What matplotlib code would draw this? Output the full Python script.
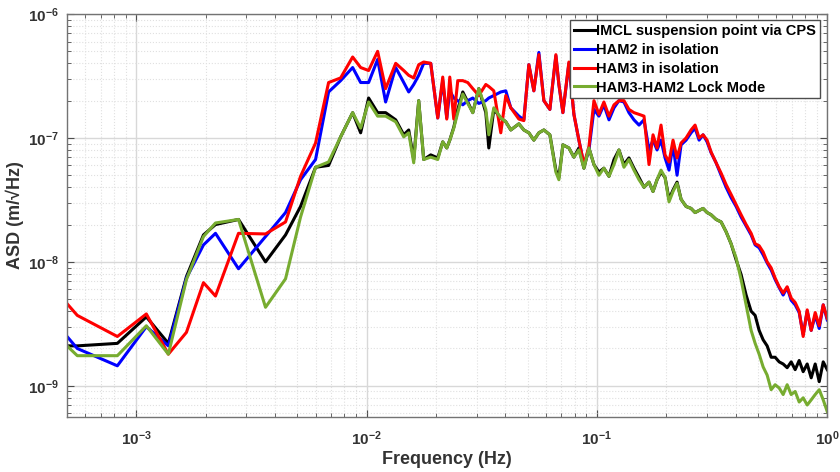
import numpy as np
import matplotlib
matplotlib.use("Agg")
import matplotlib.pyplot as plt
from matplotlib.ticker import LogLocator, NullFormatter, FixedLocator

# Frequency points (Hz), shared by all four spectra
freq = [5.0e-4, 5.54e-4, 8.27e-4, 1.105e-3, 1.377e-3, 1.65e-3, 1.956e-3, 2.206e-3, 2.777e-3, 3.638e-3,
        4.444e-3, 5.164e-3, 6.0e-3, 6.835e-3, 7.709e-3, 8.694e-3, 9.417e-3, 1.02e-2, 1.116e-2, 1.209e-2,
        1.337e-2, 1.449e-2, 1.523e-2, 1.601e-2, 1.683e-2, 1.769e-2, 1.898e-2, 2.036e-2, 2.14e-2, 2.228e-2,
        2.296e-2, 2.39e-2, 2.487e-2, 2.615e-2, 2.748e-2, 2.89e-2, 3.069e-2, 3.292e-2, 3.392e-2, 3.566e-2,
        3.824e-2, 4.02e-2, 4.227e-2, 4.581e-2, 4.815e-2, 5.062e-2, 5.322e-2, 5.595e-2, 5.883e-2, 6.246e-2,
        6.633e-2, 6.836e-2, 7.115e-2, 7.555e-2, 7.943e-2, 8.35e-2, 8.78e-2, 9.231e-2, 9.705e-2, 0.102,
        0.1072, 0.1128, 0.1186, 0.1246, 0.131, 0.1377, 0.1448, 0.1523, 0.1601, 0.1683,
        0.1752, 0.1824, 0.1898, 0.1976, 0.2056, 0.214, 0.2228, 0.2319, 0.2438, 0.2563,
        0.2668, 0.2777, 0.289, 0.3008, 0.3131, 0.3292, 0.3461, 0.3638, 0.3824, 0.402,
        0.4227, 0.4444, 0.4672, 0.4864, 0.5062, 0.5269, 0.5484, 0.5708, 0.5941, 0.6184,
        0.6436, 0.6699, 0.6973, 0.7258, 0.7554, 0.7862, 0.8185, 0.8519, 0.8866, 0.9231,
        0.9607, 1.0]

# IMCL suspension point via CPS
imcl = [2.1e-9, 2.1e-9, 2.2e-9, 3.6e-9, 2.2e-9, 7.6e-9, 1.65e-8, 2.0e-8, 2.2e-8, 1.0e-8,
        1.65e-8, 2.8e-8, 5.8e-8, 6.0e-8, 1.02e-7, 1.6e-7, 1.1e-7, 2.1e-7, 1.6e-7, 1.6e-7,
        1.4e-7, 1.06e-7, 1.16e-7, 6.7e-8, 2.0e-7, 6.7e-8, 7.3e-8, 6.9e-8, 9.3e-8, 8.3e-8,
        9.6e-8, 1.22e-7, 1.7e-7, 2.35e-7, 1.95e-7, 1.6e-7, 2.5e-7, 1.6e-7, 8.3e-8, 1.7e-7,
        1.45e-7, 1.35e-7, 1.16e-7, 1.3e-7, 1.16e-7, 1.1e-7, 9.6e-8, 1.1e-7, 1.16e-7, 1.06e-7,
        5.5e-8, 4.8e-8, 8.8e-8, 8.3e-8, 7.0e-8, 8.3e-8, 5.7e-8, 8.3e-8, 6.1e-8, 5.3e-8,
        5.7e-8, 4.9e-8, 6.7e-8, 8.0e-8, 6.1e-8, 6.9e-8, 5.7e-8, 4.8e-8, 4.0e-8, 4.4e-8,
        3.7e-8, 4.6e-8, 5.3e-8, 4.8e-8, 3.2e-8, 3.8e-8, 4.4e-8, 3.2e-8, 2.8e-8, 2.7e-8,
        2.5e-8, 2.6e-8, 2.7e-8, 2.5e-8, 2.4e-8, 2.2e-8, 2.1e-8, 1.75e-8, 1.4e-8, 1.04e-8,
        7.9e-9, 5.4e-9, 4.0e-9, 3.7e-9, 2.8e-9, 2.35e-9, 2.1e-9, 1.7e-9, 1.7e-9, 1.56e-9,
        1.5e-9, 1.4e-9, 1.56e-9, 1.35e-9, 1.6e-9, 1.3e-9, 1.5e-9, 1.16e-9, 1.5e-9, 1.08e-9,
        1.56e-9, 1.35e-9]

# HAM2 in isolation
ham2 = [2.5e-9, 2.0e-9, 1.45e-9, 3.0e-9, 2.1e-9, 7.4e-9, 1.37e-8, 1.7e-8, 8.8e-9, 1.6e-8,
        2.5e-8, 4.6e-8, 6.7e-8, 2.35e-7, 2.9e-7, 3.7e-7, 2.8e-7, 2.8e-7, 4.3e-7, 1.95e-7,
        3.7e-7, 2.8e-7, 2.35e-7, 2.7e-7, 3.2e-7, 4.0e-7, 4.0e-7, 1.45e-7, 2.9e-7, 1.45e-7,
        2.4e-7, 2.1e-7, 2.0e-7, 1.85e-7, 2.0e-7, 2.1e-7, 1.9e-7, 2.0e-7, 2.1e-7, 2.2e-7,
        2.35e-7, 2.4e-7, 1.75e-7, 1.5e-7, 1.4e-7, 3.9e-7, 2.4e-7, 4.9e-7, 2.0e-7, 1.7e-7,
        4.6e-7, 2.7e-7, 1.6e-7, 4.0e-7, 1.55e-7, 9.6e-8, 6.1e-8, 8.0e-8, 1.7e-7, 1.5e-7,
        1.85e-7, 1.4e-7, 1.75e-7, 2.0e-7, 1.95e-7, 1.6e-7, 1.4e-7, 1.27e-7, 1.4e-7, 8.0e-8,
        9.6e-8, 8.0e-8, 9.6e-8, 6.9e-8, 5.5e-8, 8.8e-8, 5.0e-8, 8.8e-8, 9.6e-8, 1.1e-7,
        1.2e-7, 9.6e-8, 1.06e-7, 9.3e-8, 7.6e-8, 6.3e-8, 5.0e-8, 4.0e-8, 3.3e-8, 2.8e-8,
        2.3e-8, 1.95e-8, 1.65e-8, 1.37e-8, 1.3e-8, 1.14e-8, 9.8e-9, 8.6e-9, 7.2e-9, 6.2e-9,
        5.4e-9, 6.2e-9, 4.9e-9, 4.5e-9, 3.9e-9, 2.6e-9, 4.0e-9, 2.8e-9, 3.7e-9, 2.9e-9,
        4.5e-9, 3.4e-9]

# HAM3 in isolation
ham3 = [4.6e-9, 3.7e-9, 2.5e-9, 3.8e-9, 1.8e-9, 2.7e-9, 6.8e-9, 5.3e-9, 1.7e-8, 1.68e-8,
        2.1e-8, 4.9e-8, 9.1e-8, 2.8e-7, 3.05e-7, 4.5e-7, 3.7e-7, 3.5e-7, 5.0e-7, 2.5e-7,
        4.0e-7, 3.5e-7, 3.2e-7, 3.05e-7, 3.9e-7, 4.1e-7, 4.0e-7, 1.45e-7, 3.1e-7, 1.42e-7,
        3.1e-7, 1.42e-7, 2.9e-7, 2.9e-7, 2.8e-7, 2.5e-7, 2.2e-7, 2.7e-7, 2.6e-7, 2.4e-7,
        1.1e-7, 2.2e-7, 1.75e-7, 1.42e-7, 1.38e-7, 3.9e-7, 2.4e-7, 4.7e-7, 2.0e-7, 1.7e-7,
        4.7e-7, 2.7e-7, 1.6e-7, 4.1e-7, 1.55e-7, 9.6e-8, 6.1e-8, 8.5e-8, 2.0e-7, 1.55e-7,
        1.95e-7, 1.5e-7, 1.85e-7, 2.0e-7, 2.0e-7, 1.7e-7, 1.6e-7, 1.55e-7, 1.5e-7, 6.1e-8,
        1.06e-7, 8.3e-8, 1.27e-7, 7.3e-8, 6.4e-8, 9.6e-8, 6.9e-8, 9.1e-8, 1.0e-7, 1.16e-7,
        1.27e-7, 1.0e-7, 1.06e-7, 9.6e-8, 7.7e-8, 6.3e-8, 5.2e-8, 4.2e-8, 3.5e-8, 2.9e-8,
        2.4e-8, 2.0e-8, 1.7e-8, 1.4e-8, 1.35e-8, 1.2e-8, 1.0e-8, 8.95e-9, 7.4e-9, 6.3e-9,
        5.6e-9, 6.3e-9, 5.1e-9, 4.7e-9, 4.0e-9, 2.5e-9, 4.1e-9, 2.8e-9, 3.9e-9, 3.05e-9,
        4.5e-9, 3.5e-9]

# HAM3-HAM2 Lock Mode
lock = [2.1e-9, 1.75e-9, 1.75e-9, 3.05e-9, 1.8e-9, 7.2e-9, 1.6e-8, 2.06e-8, 2.2e-8, 4.3e-9,
        7.3e-9, 2.3e-8, 5.8e-8, 6.4e-8, 1.02e-7, 1.6e-7, 1.2e-7, 1.95e-7, 1.5e-7, 1.5e-7,
        1.35e-7, 1.02e-7, 1.1e-7, 6.3e-8, 2.0e-7, 6.7e-8, 7.0e-8, 6.7e-8, 9.3e-8, 8.3e-8,
        9.6e-8, 1.2e-7, 1.6e-7, 2.26e-7, 1.9e-7, 1.6e-7, 2.5e-7, 1.7e-7, 1.06e-7, 1.75e-7,
        1.45e-7, 1.35e-7, 1.16e-7, 1.3e-7, 1.16e-7, 1.1e-7, 9.6e-8, 1.1e-7, 1.16e-7, 1.06e-7,
        5.3e-8, 4.6e-8, 8.8e-8, 8.3e-8, 7.0e-8, 8.0e-8, 5.7e-8, 8.3e-8, 6.1e-8, 5.0e-8,
        5.7e-8, 4.9e-8, 6.1e-8, 8.0e-8, 5.8e-8, 6.7e-8, 5.5e-8, 4.6e-8, 4.0e-8, 4.4e-8,
        3.7e-8, 4.6e-8, 5.5e-8, 4.8e-8, 3.05e-8, 3.7e-8, 4.3e-8, 3.2e-8, 2.8e-8, 2.7e-8,
        2.5e-8, 2.6e-8, 2.7e-8, 2.5e-8, 2.4e-8, 2.2e-8, 2.1e-8, 1.75e-8, 1.4e-8, 1.08e-8,
        7.2e-9, 4.5e-9, 2.8e-9, 2.2e-9, 1.8e-9, 1.42e-9, 1.22e-9, 9.3e-10, 1.02e-9, 9.6e-10,
        8.5e-10, 1.02e-9, 8.5e-10, 9.0e-10, 7.4e-10, 8.0e-10, 7.0e-10, 7.7e-10, 8.5e-10, 9.3e-10,
        7.7e-10, 6.2e-10]

labels = ["IMCL suspension point via CPS", "HAM2 in isolation",
          "HAM3 in isolation", "HAM3-HAM2 Lock Mode"]
colors = ["black", "#0000ff", "#ff0000", "#77ac30"]
xticks = [1e-3, 1e-2, 1e-1, 1e0]
yticks = [1e-9, 1e-8, 1e-7, 1e-6]

# MATLAB-ish look
plt.rcParams['font.family'] = ['Liberation Sans', 'DejaVu Sans']
plt.rcParams['font.weight'] = 'bold'
plt.rcParams['mathtext.fontset'] = 'custom'
plt.rcParams['mathtext.rm'] = 'Liberation Sans:bold'
plt.rcParams['mathtext.bf'] = 'Liberation Sans:bold'
plt.rcParams['mathtext.default'] = 'bf'

fig = plt.figure(figsize=(8.4, 4.72), dpi=100)
ax = fig.add_axes([0.0798, 0.1165, 0.905, 0.8538])

for series, lab, col in zip([imcl, ham2, ham3, lock], labels, colors):
    ax.loglog(freq, series, color=col, lw=2.2, label=lab)

ax.set_xlim(5e-4, 1)
ax.set_ylim(5.6e-10, 1e-6)

ax.xaxis.set_major_locator(FixedLocator(xticks))
ax.yaxis.set_major_locator(FixedLocator(yticks))
ax.xaxis.set_minor_locator(LogLocator(base=10, subs=np.arange(2, 10), numticks=20))
ax.yaxis.set_minor_locator(LogLocator(base=10, subs=np.arange(2, 10), numticks=20))
ax.xaxis.set_minor_formatter(NullFormatter())
ax.yaxis.set_minor_formatter(NullFormatter())

ax.grid(True, which='major', color='#d8d8d8', lw=1.0)
ax.grid(True, which='minor', color='#e0e0e0', lw=0.8, ls=':')
ax.set_axisbelow(True)

ax.tick_params(which='both', direction='in', top=True, right=True, color='0.3')
ax.tick_params(which='major', length=5, labelsize=11, pad=6)
ax.tick_params(axis='x', which='major', pad=9)
ax.tick_params(which='minor', length=3)
for s in ax.spines.values():
    s.set_color('0.45')
    s.set_linewidth(1.0)

ax.set_xlabel("Frequency (Hz)", fontsize=13, fontweight='bold', color='0.2')
ax.set_ylabel("ASD (m/\u221aHz)", fontsize=13, fontweight='bold', color='0.2')
ax.xaxis.set_label_coords(0.5, -0.085)
ax.yaxis.set_label_coords(-0.056, 0.5)
for t in ax.get_xticklabels() + ax.get_yticklabels():
    t.set_color('0.2')

leg = ax.legend(loc='upper right', bbox_to_anchor=(0.99, 0.985), fontsize=10.5,
                handlelength=1.5, handletextpad=0.05, labelspacing=0.34,
                borderpad=0.25, borderaxespad=0.0, fancybox=False, framealpha=1)
leg.get_frame().set_edgecolor('0.3')
leg.get_frame().set_linewidth(1.0)

fig.savefig("out.png", dpi=100)
